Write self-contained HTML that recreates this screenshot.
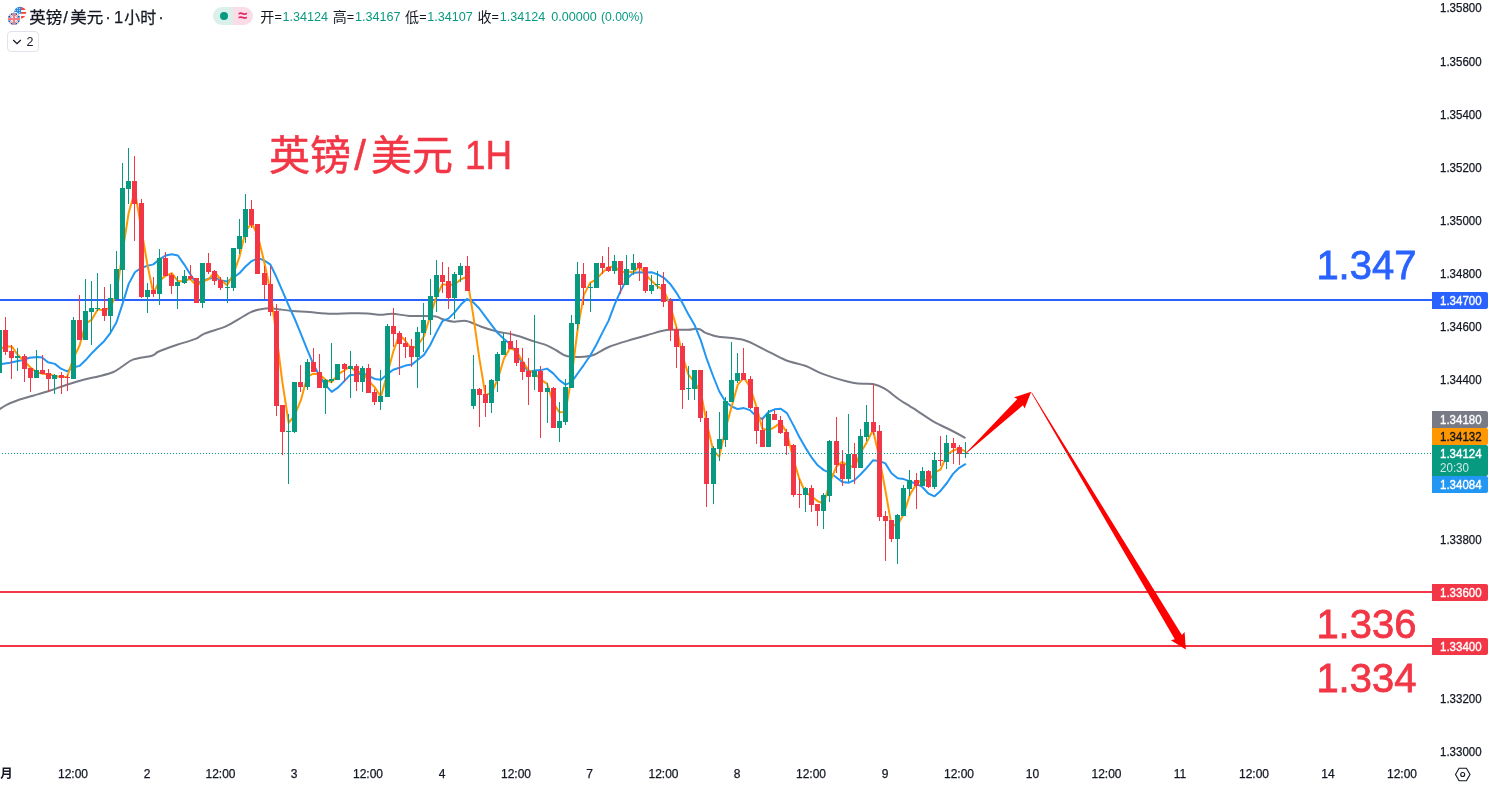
<!DOCTYPE html>
<html lang="zh-CN">
<head>
<meta charset="utf-8">
<title>英镑/美元 1小时</title>
<style>
html,body{margin:0;padding:0;background:#fff;}
body{width:1493px;height:787px;position:relative;overflow:hidden;font-family:'Liberation Sans','Noto Sans CJK SC',sans-serif;color:#131722;}
.abs{position:absolute;white-space:nowrap;}
.title{left:30px;top:6px;font-size:16px;line-height:22px;}
.vals{top:8px;font-size:12.4px;line-height:18px;}
.g{color:#089981;}
.btn{left:7px;top:31px;width:30px;height:19px;border:1px solid #e0e3eb;border-radius:4px;background:#fff;}
.pill{left:213px;top:7px;width:40px;height:18px;border-radius:9px;overflow:hidden;}
.pill i{position:absolute;top:0;height:18px;}
</style>
</head>
<body>
<svg width="1493" height="787" viewBox="0 0 1493 787" style="position:absolute;left:0;top:0">
<g shape-rendering="crispEdges">
<rect x="0" y="299" width="1432" height="2" fill="#2962ff"/>
<rect x="0" y="591" width="1432" height="2" fill="#f23645"/>
<rect x="0" y="645" width="1432" height="2" fill="#f23645"/>
</g>
<path d="M-2.0,410.0 C-1.7,409.8 -1.4,409.8 0.0,408.9 C1.4,408.0 3.8,406.2 6.6,404.8 C9.3,403.4 12.1,402.2 16.5,400.7 C20.9,399.2 27.5,397.3 33.0,395.7 C38.5,394.1 44.1,392.6 49.6,390.8 C55.1,389.0 60.6,386.8 66.1,385.0 C71.6,383.2 77.1,381.5 82.6,380.0 C88.1,378.5 94.0,377.5 99.1,376.2 C104.2,374.9 109.4,373.7 113.4,372.0 C117.4,370.3 119.7,368.1 123.0,366.0 C126.3,363.9 128.7,361.1 133.5,359.4 C138.3,357.7 147.8,357.0 152.0,355.7 C156.2,354.4 154.5,353.3 158.7,351.5 C162.9,349.7 170.9,346.9 177.1,344.8 C183.2,342.7 191.1,340.7 195.6,338.9 C200.1,337.1 199.0,336.0 204.0,333.9 C209.0,331.8 219.9,328.9 225.8,326.4 C231.7,323.9 235.0,321.2 239.2,318.8 C243.4,316.4 247.6,313.6 250.9,312.1 C254.2,310.6 256.2,310.2 259.3,309.6 C262.4,309.0 265.8,308.2 269.4,308.2 C273.0,308.2 277.2,309.2 281.1,309.6 C285.0,310.1 288.1,310.5 292.8,310.9 C297.6,311.3 303.2,311.6 309.6,312.1 C316.0,312.6 324.7,313.6 331.4,313.8 C338.1,314.0 344.0,313.4 350.0,313.3 C356.0,313.2 362.3,313.1 367.4,313.4 C372.5,313.6 376.6,314.8 380.8,314.8 C385.0,314.9 387.8,313.5 392.5,313.7 C397.2,313.9 402.3,315.5 409.3,315.9 C416.3,316.3 428.8,315.7 434.4,316.3 C440.0,316.9 439.6,318.4 442.8,319.3 C446.0,320.2 449.8,321.5 453.7,321.8 C457.6,322.1 461.7,320.2 466.3,321.0 C470.9,321.8 476.3,325.1 481.4,326.8 C486.5,328.6 491.6,330.2 497.0,331.5 C502.4,332.8 507.7,333.1 513.9,334.7 C520.1,336.3 528.4,339.6 534.0,341.4 C539.6,343.2 543.5,344.0 547.4,345.6 C551.3,347.2 554.0,349.2 557.3,351.0 C560.6,352.8 562.9,355.3 567.4,356.3 C571.9,357.3 579.6,357.1 584.1,356.8 C588.6,356.6 590.0,356.5 594.2,354.8 C598.4,353.1 602.6,349.5 609.3,346.8 C616.0,344.1 627.4,341.0 634.4,338.8 C641.4,336.6 646.9,335.2 651.4,333.9 C655.9,332.6 658.4,331.8 661.6,331.1 C664.8,330.4 666.0,330.0 670.4,329.8 C674.8,329.6 684.2,330.0 688.2,329.8 C692.2,329.6 692.5,329.0 694.4,328.9 C696.3,328.8 698.0,328.7 699.8,329.3 C701.6,329.9 703.4,331.9 705.1,332.7 C706.8,333.5 707.7,333.7 710.0,334.4 C712.3,335.1 713.1,335.8 718.7,336.7 C724.3,337.6 736.2,337.9 743.8,340.0 C751.3,342.1 757.0,345.9 764.0,349.3 C771.0,352.7 778.8,357.4 785.8,360.2 C792.8,363.0 799.8,363.7 805.9,366.0 C812.0,368.3 814.8,371.1 822.6,373.9 C830.4,376.7 844.4,381.1 852.8,382.8 C861.2,384.5 867.6,383.0 872.9,384.0 C878.2,385.0 880.5,386.2 884.7,388.7 C888.9,391.1 893.9,395.8 898.1,398.7 C902.3,401.6 906.8,404.3 910.0,406.3 C913.2,408.3 913.2,408.2 917.2,410.8 C921.2,413.4 928.0,418.3 933.7,421.6 C939.4,424.9 946.2,427.8 951.5,430.5 C956.8,433.2 963.2,436.8 965.5,438.1" fill="none" stroke="#787b86" stroke-width="2" stroke-linejoin="round" stroke-linecap="butt"/>
<path d="M-1.0,364.5 L0.0,364.3 L9.9,362.7 L21.5,360.2 L29.7,357.7 L38.0,357.0 L42.1,357.4 L47.9,362.3 L54.9,363.9 L61.0,368.7 L67.2,371.3 L73.3,367.5 L79.5,365.9 L85.7,360.1 L91.8,353.2 L98.0,347.0 L104.1,341.2 L110.3,333.1 L116.4,322.5 L122.6,303.6 L128.7,283.9 L134.9,272.3 L141.0,268.0 L147.2,265.9 L153.3,264.4 L159.5,259.4 L165.6,255.5 L171.8,254.2 L177.9,255.5 L184.1,264.3 L190.2,274.0 L196.4,283.9 L202.5,280.6 L208.7,278.7 L214.8,277.4 L221.0,280.4 L227.1,281.5 L233.3,277.8 L239.4,273.2 L245.6,266.5 L251.7,261.1 L257.9,258.1 L264.0,260.3 L270.2,264.3 L276.3,276.8 L282.5,291.2 L288.7,305.6 L294.8,319.0 L301.0,334.1 L307.1,349.4 L313.3,364.2 L319.4,375.6 L325.6,385.1 L331.7,391.8 L337.9,387.7 L344.0,381.4 L350.2,374.9 L356.3,374.8 L362.5,372.9 L368.6,376.0 L374.8,378.9 L380.9,379.8 L387.1,374.4 L393.2,369.8 L399.4,367.8 L405.5,365.6 L411.7,364.6 L417.8,359.7 L424.0,354.9 L430.1,345.3 L436.3,332.6 L442.4,321.2 L448.6,318.4 L454.7,312.4 L460.9,304.6 L467.0,299.0 L473.2,302.3 L479.3,308.5 L485.5,316.8 L491.7,325.2 L497.8,333.1 L504.0,339.0 L510.1,344.1 L516.3,353.0 L522.4,363.5 L528.6,372.1 L534.7,370.4 L540.9,370.1 L547.0,368.6 L553.2,373.4 L559.3,380.1 L565.5,384.6 L571.6,382.1 L577.8,373.2 L583.9,364.8 L590.1,355.8 L596.2,345.0 L602.4,332.6 L608.5,320.9 L614.7,304.3 L620.8,290.6 L627.0,278.9 L633.1,272.9 L639.3,272.2 L645.4,272.5 L651.6,272.3 L657.7,274.4 L663.9,277.8 L670.0,283.7 L676.2,292.3 L682.3,302.7 L688.5,314.6 L694.7,325.3 L700.8,340.4 L707.0,359.7 L713.1,376.0 L719.3,391.5 L725.4,401.4 L731.6,406.5 L737.7,409.1 L743.9,408.1 L750.0,410.1 L756.2,416.2 L762.3,419.0 L768.5,412.0 L774.6,409.3 L780.8,408.7 L786.9,413.1 L793.1,424.6 L799.2,436.8 L805.4,447.6 L811.5,457.3 L817.7,465.3 L823.8,470.1 L830.0,472.8 L836.1,477.3 L842.3,481.9 L848.4,482.8 L854.6,480.1 L860.7,474.2 L866.9,467.6 L873.0,460.3 L879.2,460.9 L885.3,463.4 L891.5,473.2 L897.7,478.2 L903.8,479.1 L910.0,481.7 L916.1,483.5 L922.3,487.0 L928.4,493.5 L934.6,496.3 L940.7,490.7 L946.9,483.0 L953.0,473.9 L959.2,467.8 L965.3,464.2" fill="none" stroke="#2196f3" stroke-width="2" stroke-linejoin="round" stroke-linecap="round"/>
<path d="M-0.5,349.0 L5.7,346.5 L11.8,346.4 L18.0,355.2 L24.1,360.8 L30.3,367.4 L36.4,372.1 L42.6,373.8 L48.7,374.2 L54.9,375.9 L61.0,377.1 L67.2,376.7 L73.3,358.4 L79.5,345.7 L85.7,323.6 L91.8,319.6 L98.0,309.1 L104.1,310.7 L110.3,307.4 L116.4,294.4 L122.6,251.8 L128.7,212.7 L134.9,190.9 L141.0,227.1 L147.2,263.5 L153.3,293.5 L159.5,280.6 L165.6,275.9 L171.8,273.2 L177.9,281.2 L184.1,281.2 L190.2,278.8 L196.4,285.8 L202.5,281.5 L208.7,279.2 L214.8,271.8 L221.0,280.0 L227.1,285.2 L233.3,274.3 L239.4,257.0 L245.6,231.0 L251.7,223.2 L257.9,235.7 L264.0,261.0 L270.2,290.0 L276.3,334.1 L282.5,383.0 L288.7,422.8 L294.8,414.9 L301.0,399.9 L307.1,376.9 L313.3,373.7 L319.4,374.0 L325.6,380.0 L331.7,382.2 L337.9,374.4 L344.0,370.6 L350.2,366.2 L356.3,372.1 L362.5,371.9 L368.6,380.7 L374.8,387.4 L380.9,396.8 L387.1,374.6 L393.2,351.9 L399.4,334.4 L405.5,341.2 L411.7,349.0 L417.8,345.2 L424.0,336.3 L430.1,316.2 L436.3,297.1 L442.4,284.3 L448.6,284.9 L454.7,284.5 L460.9,279.2 L467.0,276.8 L473.2,315.2 L479.3,358.1 L485.5,395.4 L491.7,392.5 L497.8,379.0 L504.0,358.5 L510.1,348.0 L516.3,350.9 L522.4,361.0 L528.6,370.3 L534.7,373.1 L540.9,379.8 L547.0,383.7 L553.2,402.5 L559.3,412.3 L565.5,411.9 L571.6,377.0 L577.8,328.0 L583.9,294.9 L590.1,282.9 L596.2,279.3 L602.4,272.6 L608.5,267.3 L614.7,266.6 L620.8,272.3 L627.0,271.6 L633.1,272.3 L639.3,266.6 L645.4,273.9 L651.6,281.1 L657.7,286.6 L663.9,290.2 L670.0,305.1 L676.2,326.1 L682.3,355.3 L688.5,374.7 L694.7,382.5 L700.8,392.2 L707.0,424.2 L713.1,450.1 L719.3,456.9 L725.4,429.4 L731.6,406.8 L737.7,384.9 L743.9,377.6 L750.0,386.9 L756.2,406.0 L762.3,428.4 L768.5,430.5 L774.6,427.1 L780.8,422.4 L786.9,432.9 L793.1,457.7 L799.2,478.5 L805.4,492.7 L811.5,495.9 L817.7,501.2 L823.8,503.5 L830.0,482.3 L836.1,467.1 L842.3,461.7 L848.4,466.1 L854.6,466.9 L860.7,452.7 L866.9,441.9 L873.0,430.0 L879.2,456.9 L885.3,489.8 L891.5,525.4 L897.7,524.8 L903.8,513.9 L910.0,494.4 L916.1,484.6 L922.3,478.9 L928.4,481.1 L934.6,472.7 L940.7,469.4 L946.9,454.8 L953.0,450.6 L959.2,448.2 L965.3,451.4" fill="none" stroke="#ff9800" stroke-width="2" stroke-linejoin="round" stroke-linecap="round"/>
<g shape-rendering="crispEdges">
<rect x="-1" y="325" width="1" height="50" fill="#089981"/>
<rect x="-3" y="330" width="5" height="43" fill="#089981"/>
<rect x="5" y="317" width="1" height="38" fill="#f23645"/>
<rect x="3" y="330" width="5" height="22" fill="#f23645"/>
<rect x="11" y="345" width="1" height="34" fill="#f23645"/>
<rect x="9" y="351" width="5" height="7" fill="#f23645"/>
<rect x="17" y="348" width="1" height="23" fill="#089981"/>
<rect x="15" y="356" width="5" height="2" fill="#089981"/>
<rect x="24" y="354" width="1" height="28" fill="#f23645"/>
<rect x="22" y="356" width="5" height="13" fill="#f23645"/>
<rect x="30" y="368" width="1" height="24" fill="#f23645"/>
<rect x="28" y="368" width="5" height="10" fill="#f23645"/>
<rect x="36" y="350" width="1" height="28" fill="#089981"/>
<rect x="34" y="370" width="5" height="8" fill="#089981"/>
<rect x="42" y="355" width="1" height="19" fill="#f23645"/>
<rect x="40" y="370" width="5" height="4" fill="#f23645"/>
<rect x="48" y="369" width="1" height="23" fill="#f23645"/>
<rect x="46" y="373" width="5" height="6" fill="#f23645"/>
<rect x="54" y="374" width="1" height="20" fill="#089981"/>
<rect x="52" y="375" width="5" height="4" fill="#089981"/>
<rect x="61" y="372" width="1" height="22" fill="#f23645"/>
<rect x="59" y="375" width="5" height="3" fill="#f23645"/>
<rect x="67" y="375" width="1" height="16" fill="#f23645"/>
<rect x="65" y="377" width="5" height="1" fill="#f23645"/>
<rect x="73" y="317" width="1" height="62" fill="#089981"/>
<rect x="71" y="320" width="5" height="59" fill="#089981"/>
<rect x="79" y="295" width="1" height="45" fill="#f23645"/>
<rect x="77" y="320" width="5" height="20" fill="#f23645"/>
<rect x="85" y="279" width="1" height="61" fill="#089981"/>
<rect x="83" y="311" width="5" height="29" fill="#089981"/>
<rect x="91" y="281" width="1" height="64" fill="#089981"/>
<rect x="89" y="308" width="5" height="4" fill="#089981"/>
<rect x="97" y="273" width="1" height="38" fill="#089981"/>
<rect x="95" y="308" width="5" height="1" fill="#089981"/>
<rect x="104" y="287" width="1" height="34" fill="#f23645"/>
<rect x="102" y="308" width="5" height="8" fill="#f23645"/>
<rect x="110" y="284" width="1" height="48" fill="#089981"/>
<rect x="108" y="298" width="5" height="18" fill="#089981"/>
<rect x="116" y="251" width="1" height="48" fill="#089981"/>
<rect x="114" y="269" width="5" height="30" fill="#089981"/>
<rect x="122" y="163" width="1" height="137" fill="#089981"/>
<rect x="120" y="188" width="5" height="82" fill="#089981"/>
<rect x="128" y="148" width="1" height="56" fill="#089981"/>
<rect x="126" y="181" width="5" height="8" fill="#089981"/>
<rect x="134" y="156" width="1" height="85" fill="#f23645"/>
<rect x="132" y="181" width="5" height="23" fill="#f23645"/>
<rect x="141" y="199" width="1" height="99" fill="#f23645"/>
<rect x="139" y="203" width="5" height="94" fill="#f23645"/>
<rect x="147" y="283" width="1" height="30" fill="#089981"/>
<rect x="145" y="290" width="5" height="7" fill="#089981"/>
<rect x="153" y="277" width="1" height="20" fill="#f23645"/>
<rect x="151" y="290" width="5" height="4" fill="#f23645"/>
<rect x="159" y="249" width="1" height="56" fill="#089981"/>
<rect x="157" y="258" width="5" height="36" fill="#089981"/>
<rect x="165" y="252" width="1" height="24" fill="#f23645"/>
<rect x="163" y="258" width="5" height="18" fill="#f23645"/>
<rect x="171" y="273" width="1" height="21" fill="#f23645"/>
<rect x="169" y="275" width="5" height="11" fill="#f23645"/>
<rect x="177" y="276" width="1" height="33" fill="#089981"/>
<rect x="175" y="282" width="5" height="4" fill="#089981"/>
<rect x="184" y="270" width="1" height="14" fill="#089981"/>
<rect x="182" y="276" width="5" height="7" fill="#089981"/>
<rect x="190" y="265" width="1" height="15" fill="#f23645"/>
<rect x="188" y="276" width="5" height="3" fill="#f23645"/>
<rect x="196" y="278" width="1" height="25" fill="#f23645"/>
<rect x="194" y="278" width="5" height="25" fill="#f23645"/>
<rect x="202" y="263" width="1" height="45" fill="#089981"/>
<rect x="200" y="263" width="5" height="40" fill="#089981"/>
<rect x="208" y="253" width="1" height="21" fill="#f23645"/>
<rect x="206" y="263" width="5" height="9" fill="#f23645"/>
<rect x="214" y="270" width="1" height="15" fill="#f23645"/>
<rect x="212" y="271" width="5" height="10" fill="#f23645"/>
<rect x="220" y="277" width="1" height="13" fill="#f23645"/>
<rect x="218" y="280" width="5" height="8" fill="#f23645"/>
<rect x="227" y="277" width="1" height="26" fill="#089981"/>
<rect x="225" y="287" width="5" height="1" fill="#089981"/>
<rect x="233" y="248" width="1" height="43" fill="#089981"/>
<rect x="231" y="248" width="5" height="40" fill="#089981"/>
<rect x="239" y="219" width="1" height="35" fill="#089981"/>
<rect x="237" y="236" width="5" height="13" fill="#089981"/>
<rect x="245" y="194" width="1" height="49" fill="#089981"/>
<rect x="243" y="209" width="5" height="28" fill="#089981"/>
<rect x="251" y="200" width="1" height="28" fill="#f23645"/>
<rect x="249" y="209" width="5" height="16" fill="#f23645"/>
<rect x="257" y="224" width="1" height="50" fill="#f23645"/>
<rect x="255" y="224" width="5" height="50" fill="#f23645"/>
<rect x="264" y="266" width="1" height="33" fill="#f23645"/>
<rect x="262" y="273" width="5" height="12" fill="#f23645"/>
<rect x="270" y="266" width="1" height="50" fill="#f23645"/>
<rect x="268" y="284" width="5" height="28" fill="#f23645"/>
<rect x="276" y="304" width="1" height="112" fill="#f23645"/>
<rect x="274" y="311" width="5" height="95" fill="#f23645"/>
<rect x="282" y="405" width="1" height="50" fill="#f23645"/>
<rect x="280" y="405" width="5" height="27" fill="#f23645"/>
<rect x="288" y="414" width="1" height="70" fill="#089981"/>
<rect x="286" y="431" width="5" height="1" fill="#089981"/>
<rect x="294" y="382" width="1" height="51" fill="#089981"/>
<rect x="292" y="382" width="5" height="50" fill="#089981"/>
<rect x="300" y="365" width="1" height="27" fill="#f23645"/>
<rect x="298" y="382" width="5" height="5" fill="#f23645"/>
<rect x="307" y="359" width="1" height="31" fill="#089981"/>
<rect x="305" y="362" width="5" height="25" fill="#089981"/>
<rect x="313" y="348" width="1" height="24" fill="#f23645"/>
<rect x="311" y="362" width="5" height="10" fill="#f23645"/>
<rect x="319" y="354" width="1" height="34" fill="#f23645"/>
<rect x="317" y="372" width="5" height="16" fill="#f23645"/>
<rect x="325" y="379" width="1" height="35" fill="#089981"/>
<rect x="323" y="380" width="5" height="8" fill="#089981"/>
<rect x="331" y="343" width="1" height="40" fill="#089981"/>
<rect x="329" y="379" width="5" height="2" fill="#089981"/>
<rect x="337" y="364" width="1" height="16" fill="#089981"/>
<rect x="335" y="364" width="5" height="16" fill="#089981"/>
<rect x="344" y="363" width="1" height="19" fill="#f23645"/>
<rect x="342" y="364" width="5" height="5" fill="#f23645"/>
<rect x="350" y="351" width="1" height="47" fill="#089981"/>
<rect x="348" y="366" width="5" height="3" fill="#089981"/>
<rect x="356" y="364" width="1" height="27" fill="#f23645"/>
<rect x="354" y="366" width="5" height="16" fill="#f23645"/>
<rect x="362" y="366" width="1" height="26" fill="#089981"/>
<rect x="360" y="368" width="5" height="14" fill="#089981"/>
<rect x="368" y="364" width="1" height="29" fill="#f23645"/>
<rect x="366" y="368" width="5" height="25" fill="#f23645"/>
<rect x="374" y="389" width="1" height="16" fill="#f23645"/>
<rect x="372" y="392" width="5" height="10" fill="#f23645"/>
<rect x="380" y="370" width="1" height="40" fill="#089981"/>
<rect x="378" y="396" width="5" height="6" fill="#089981"/>
<rect x="387" y="324" width="1" height="73" fill="#089981"/>
<rect x="385" y="326" width="5" height="71" fill="#089981"/>
<rect x="393" y="308" width="1" height="39" fill="#f23645"/>
<rect x="391" y="326" width="5" height="8" fill="#f23645"/>
<rect x="399" y="331" width="1" height="44" fill="#f23645"/>
<rect x="397" y="333" width="5" height="11" fill="#f23645"/>
<rect x="405" y="337" width="1" height="21" fill="#f23645"/>
<rect x="403" y="343" width="5" height="4" fill="#f23645"/>
<rect x="411" y="339" width="1" height="28" fill="#f23645"/>
<rect x="409" y="346" width="5" height="11" fill="#f23645"/>
<rect x="417" y="327" width="1" height="61" fill="#089981"/>
<rect x="415" y="332" width="5" height="25" fill="#089981"/>
<rect x="423" y="303" width="1" height="49" fill="#089981"/>
<rect x="421" y="320" width="5" height="13" fill="#089981"/>
<rect x="430" y="279" width="1" height="56" fill="#089981"/>
<rect x="428" y="296" width="5" height="24" fill="#089981"/>
<rect x="436" y="260" width="1" height="52" fill="#089981"/>
<rect x="434" y="275" width="5" height="22" fill="#089981"/>
<rect x="442" y="262" width="1" height="31" fill="#f23645"/>
<rect x="440" y="275" width="5" height="7" fill="#f23645"/>
<rect x="448" y="267" width="1" height="42" fill="#f23645"/>
<rect x="446" y="281" width="5" height="17" fill="#f23645"/>
<rect x="454" y="272" width="1" height="47" fill="#089981"/>
<rect x="452" y="274" width="5" height="24" fill="#089981"/>
<rect x="460" y="263" width="1" height="19" fill="#089981"/>
<rect x="458" y="266" width="5" height="9" fill="#089981"/>
<rect x="467" y="256" width="1" height="35" fill="#f23645"/>
<rect x="465" y="266" width="5" height="25" fill="#f23645"/>
<rect x="473" y="355" width="1" height="54" fill="#089981"/>
<rect x="471" y="389" width="5" height="17" fill="#089981"/>
<rect x="479" y="388" width="1" height="39" fill="#f23645"/>
<rect x="477" y="389" width="5" height="6" fill="#f23645"/>
<rect x="485" y="385" width="1" height="32" fill="#f23645"/>
<rect x="483" y="394" width="5" height="9" fill="#f23645"/>
<rect x="491" y="379" width="1" height="34" fill="#089981"/>
<rect x="489" y="380" width="5" height="23" fill="#089981"/>
<rect x="497" y="352" width="1" height="40" fill="#089981"/>
<rect x="495" y="354" width="5" height="27" fill="#089981"/>
<rect x="503" y="333" width="1" height="22" fill="#089981"/>
<rect x="501" y="341" width="5" height="14" fill="#089981"/>
<rect x="510" y="331" width="1" height="18" fill="#f23645"/>
<rect x="508" y="341" width="5" height="8" fill="#f23645"/>
<rect x="516" y="340" width="1" height="26" fill="#f23645"/>
<rect x="514" y="348" width="5" height="15" fill="#f23645"/>
<rect x="522" y="348" width="1" height="32" fill="#f23645"/>
<rect x="520" y="362" width="5" height="10" fill="#f23645"/>
<rect x="528" y="358" width="1" height="47" fill="#f23645"/>
<rect x="526" y="371" width="5" height="6" fill="#f23645"/>
<rect x="534" y="315" width="1" height="75" fill="#089981"/>
<rect x="532" y="371" width="5" height="6" fill="#089981"/>
<rect x="540" y="366" width="1" height="72" fill="#f23645"/>
<rect x="538" y="371" width="5" height="21" fill="#f23645"/>
<rect x="547" y="383" width="1" height="40" fill="#089981"/>
<rect x="545" y="388" width="5" height="4" fill="#089981"/>
<rect x="553" y="387" width="1" height="41" fill="#f23645"/>
<rect x="551" y="388" width="5" height="40" fill="#f23645"/>
<rect x="559" y="402" width="1" height="40" fill="#089981"/>
<rect x="557" y="421" width="5" height="7" fill="#089981"/>
<rect x="565" y="379" width="1" height="46" fill="#089981"/>
<rect x="563" y="387" width="5" height="35" fill="#089981"/>
<rect x="571" y="315" width="1" height="73" fill="#089981"/>
<rect x="569" y="323" width="5" height="65" fill="#089981"/>
<rect x="577" y="262" width="1" height="68" fill="#089981"/>
<rect x="575" y="274" width="5" height="50" fill="#089981"/>
<rect x="583" y="263" width="1" height="42" fill="#f23645"/>
<rect x="581" y="274" width="5" height="14" fill="#f23645"/>
<rect x="590" y="283" width="1" height="29" fill="#089981"/>
<rect x="588" y="287" width="5" height="1" fill="#089981"/>
<rect x="596" y="263" width="1" height="25" fill="#089981"/>
<rect x="594" y="263" width="5" height="25" fill="#089981"/>
<rect x="602" y="256" width="1" height="18" fill="#f23645"/>
<rect x="600" y="263" width="5" height="5" fill="#f23645"/>
<rect x="608" y="247" width="1" height="25" fill="#f23645"/>
<rect x="606" y="267" width="5" height="4" fill="#f23645"/>
<rect x="614" y="255" width="1" height="19" fill="#089981"/>
<rect x="612" y="261" width="5" height="10" fill="#089981"/>
<rect x="620" y="261" width="1" height="33" fill="#f23645"/>
<rect x="618" y="261" width="5" height="24" fill="#f23645"/>
<rect x="626" y="255" width="1" height="30" fill="#089981"/>
<rect x="624" y="269" width="5" height="16" fill="#089981"/>
<rect x="633" y="254" width="1" height="21" fill="#089981"/>
<rect x="631" y="263" width="5" height="7" fill="#089981"/>
<rect x="639" y="262" width="1" height="19" fill="#f23645"/>
<rect x="637" y="263" width="5" height="5" fill="#f23645"/>
<rect x="645" y="267" width="1" height="26" fill="#f23645"/>
<rect x="643" y="267" width="5" height="24" fill="#f23645"/>
<rect x="651" y="275" width="1" height="19" fill="#089981"/>
<rect x="649" y="285" width="5" height="6" fill="#089981"/>
<rect x="657" y="271" width="1" height="18" fill="#089981"/>
<rect x="655" y="284" width="5" height="1" fill="#089981"/>
<rect x="663" y="272" width="1" height="35" fill="#f23645"/>
<rect x="661" y="284" width="5" height="18" fill="#f23645"/>
<rect x="670" y="298" width="1" height="43" fill="#f23645"/>
<rect x="668" y="301" width="5" height="29" fill="#f23645"/>
<rect x="676" y="327" width="1" height="41" fill="#f23645"/>
<rect x="674" y="329" width="5" height="18" fill="#f23645"/>
<rect x="682" y="343" width="1" height="66" fill="#f23645"/>
<rect x="680" y="346" width="5" height="44" fill="#f23645"/>
<rect x="688" y="366" width="1" height="34" fill="#089981"/>
<rect x="686" y="388" width="5" height="1" fill="#089981"/>
<rect x="694" y="370" width="1" height="30" fill="#089981"/>
<rect x="692" y="370" width="5" height="19" fill="#089981"/>
<rect x="700" y="370" width="1" height="52" fill="#f23645"/>
<rect x="698" y="370" width="5" height="48" fill="#f23645"/>
<rect x="706" y="411" width="1" height="96" fill="#f23645"/>
<rect x="704" y="418" width="5" height="66" fill="#f23645"/>
<rect x="713" y="446" width="1" height="58" fill="#089981"/>
<rect x="711" y="448" width="5" height="36" fill="#089981"/>
<rect x="719" y="412" width="1" height="49" fill="#089981"/>
<rect x="717" y="439" width="5" height="10" fill="#089981"/>
<rect x="725" y="397" width="1" height="50" fill="#089981"/>
<rect x="723" y="401" width="5" height="39" fill="#089981"/>
<rect x="731" y="342" width="1" height="60" fill="#089981"/>
<rect x="729" y="380" width="5" height="22" fill="#089981"/>
<rect x="737" y="353" width="1" height="30" fill="#089981"/>
<rect x="735" y="373" width="5" height="8" fill="#089981"/>
<rect x="743" y="348" width="1" height="32" fill="#f23645"/>
<rect x="741" y="373" width="5" height="7" fill="#f23645"/>
<rect x="750" y="376" width="1" height="33" fill="#f23645"/>
<rect x="748" y="379" width="5" height="29" fill="#f23645"/>
<rect x="756" y="407" width="1" height="37" fill="#f23645"/>
<rect x="754" y="407" width="5" height="24" fill="#f23645"/>
<rect x="762" y="418" width="1" height="29" fill="#f23645"/>
<rect x="760" y="430" width="5" height="17" fill="#f23645"/>
<rect x="768" y="410" width="1" height="37" fill="#089981"/>
<rect x="766" y="414" width="5" height="33" fill="#089981"/>
<rect x="774" y="410" width="1" height="10" fill="#f23645"/>
<rect x="772" y="414" width="5" height="6" fill="#f23645"/>
<rect x="780" y="416" width="1" height="18" fill="#f23645"/>
<rect x="778" y="420" width="5" height="13" fill="#f23645"/>
<rect x="786" y="429" width="1" height="26" fill="#f23645"/>
<rect x="784" y="432" width="5" height="14" fill="#f23645"/>
<rect x="793" y="444" width="1" height="53" fill="#f23645"/>
<rect x="791" y="445" width="5" height="50" fill="#f23645"/>
<rect x="799" y="479" width="1" height="29" fill="#f23645"/>
<rect x="797" y="494" width="5" height="1" fill="#f23645"/>
<rect x="805" y="487" width="1" height="25" fill="#089981"/>
<rect x="803" y="488" width="5" height="7" fill="#089981"/>
<rect x="811" y="485" width="1" height="27" fill="#f23645"/>
<rect x="809" y="488" width="5" height="17" fill="#f23645"/>
<rect x="817" y="504" width="1" height="22" fill="#f23645"/>
<rect x="815" y="504" width="5" height="7" fill="#f23645"/>
<rect x="823" y="493" width="1" height="36" fill="#089981"/>
<rect x="821" y="495" width="5" height="16" fill="#089981"/>
<rect x="829" y="440" width="1" height="62" fill="#089981"/>
<rect x="827" y="441" width="5" height="55" fill="#089981"/>
<rect x="836" y="417" width="1" height="56" fill="#f23645"/>
<rect x="834" y="441" width="5" height="24" fill="#f23645"/>
<rect x="842" y="450" width="1" height="36" fill="#f23645"/>
<rect x="840" y="464" width="5" height="15" fill="#f23645"/>
<rect x="848" y="414" width="1" height="68" fill="#089981"/>
<rect x="846" y="454" width="5" height="25" fill="#089981"/>
<rect x="854" y="443" width="1" height="41" fill="#f23645"/>
<rect x="852" y="454" width="5" height="14" fill="#f23645"/>
<rect x="860" y="429" width="1" height="39" fill="#089981"/>
<rect x="858" y="436" width="5" height="32" fill="#089981"/>
<rect x="866" y="405" width="1" height="36" fill="#089981"/>
<rect x="864" y="422" width="5" height="15" fill="#089981"/>
<rect x="873" y="384" width="1" height="51" fill="#f23645"/>
<rect x="871" y="422" width="5" height="10" fill="#f23645"/>
<rect x="879" y="425" width="1" height="96" fill="#f23645"/>
<rect x="877" y="431" width="5" height="86" fill="#f23645"/>
<rect x="885" y="511" width="1" height="50" fill="#f23645"/>
<rect x="883" y="516" width="5" height="5" fill="#f23645"/>
<rect x="891" y="520" width="1" height="22" fill="#f23645"/>
<rect x="889" y="520" width="5" height="19" fill="#f23645"/>
<rect x="897" y="514" width="1" height="50" fill="#089981"/>
<rect x="895" y="515" width="5" height="24" fill="#089981"/>
<rect x="903" y="485" width="1" height="31" fill="#089981"/>
<rect x="901" y="488" width="5" height="28" fill="#089981"/>
<rect x="909" y="470" width="1" height="26" fill="#089981"/>
<rect x="907" y="480" width="5" height="9" fill="#089981"/>
<rect x="916" y="473" width="1" height="36" fill="#f23645"/>
<rect x="914" y="480" width="5" height="6" fill="#f23645"/>
<rect x="922" y="467" width="1" height="19" fill="#089981"/>
<rect x="920" y="471" width="5" height="15" fill="#089981"/>
<rect x="928" y="470" width="1" height="18" fill="#f23645"/>
<rect x="926" y="471" width="5" height="16" fill="#f23645"/>
<rect x="934" y="452" width="1" height="37" fill="#089981"/>
<rect x="932" y="460" width="5" height="27" fill="#089981"/>
<rect x="940" y="436" width="1" height="30" fill="#f23645"/>
<rect x="938" y="460" width="5" height="1" fill="#f23645"/>
<rect x="946" y="435" width="1" height="34" fill="#089981"/>
<rect x="944" y="443" width="5" height="19" fill="#089981"/>
<rect x="953" y="438" width="1" height="26" fill="#f23645"/>
<rect x="951" y="443" width="5" height="5" fill="#f23645"/>
<rect x="959" y="445" width="1" height="20" fill="#f23645"/>
<rect x="957" y="447" width="5" height="7" fill="#f23645"/>
<rect x="965" y="442" width="1" height="16" fill="#089981"/>
<rect x="963" y="453" width="5" height="1" fill="#089981"/>
</g>
<polygon points="966.2,453.4 1023.0,405.3 1024.6,408.6 1031.2,391.8 1014.0,397.3 1017.3,399.1 965.8,453.0" fill="#ff0000"/>
<polygon points="1031.3,392.8 1174.8,639.2 1170.9,640.2 1185.8,649.5 1184.6,632.0 1181.9,634.9 1031.9,392.4" fill="#ff0000"/>
<g shape-rendering="crispEdges" fill="#089981">
<path d="M2 453h1v1h-1zM5 453h1v1h-1zM8 453h1v1h-1zM11 453h1v1h-1zM14 453h1v1h-1zM17 453h1v1h-1zM20 453h1v1h-1zM23 453h1v1h-1zM26 453h1v1h-1zM29 453h1v1h-1zM32 453h1v1h-1zM35 453h1v1h-1zM38 453h1v1h-1zM41 453h1v1h-1zM44 453h1v1h-1zM47 453h1v1h-1zM50 453h1v1h-1zM53 453h1v1h-1zM56 453h1v1h-1zM59 453h1v1h-1zM62 453h1v1h-1zM65 453h1v1h-1zM68 453h1v1h-1zM71 453h1v1h-1zM74 453h1v1h-1zM77 453h1v1h-1zM80 453h1v1h-1zM83 453h1v1h-1zM86 453h1v1h-1zM89 453h1v1h-1zM92 453h1v1h-1zM95 453h1v1h-1zM98 453h1v1h-1zM101 453h1v1h-1zM104 453h1v1h-1zM107 453h1v1h-1zM110 453h1v1h-1zM113 453h1v1h-1zM116 453h1v1h-1zM119 453h1v1h-1zM122 453h1v1h-1zM125 453h1v1h-1zM128 453h1v1h-1zM131 453h1v1h-1zM134 453h1v1h-1zM137 453h1v1h-1zM140 453h1v1h-1zM143 453h1v1h-1zM146 453h1v1h-1zM149 453h1v1h-1zM152 453h1v1h-1zM155 453h1v1h-1zM158 453h1v1h-1zM161 453h1v1h-1zM164 453h1v1h-1zM167 453h1v1h-1zM170 453h1v1h-1zM173 453h1v1h-1zM176 453h1v1h-1zM179 453h1v1h-1zM182 453h1v1h-1zM185 453h1v1h-1zM188 453h1v1h-1zM191 453h1v1h-1zM194 453h1v1h-1zM197 453h1v1h-1zM200 453h1v1h-1zM203 453h1v1h-1zM206 453h1v1h-1zM209 453h1v1h-1zM212 453h1v1h-1zM215 453h1v1h-1zM218 453h1v1h-1zM221 453h1v1h-1zM224 453h1v1h-1zM227 453h1v1h-1zM230 453h1v1h-1zM233 453h1v1h-1zM236 453h1v1h-1zM239 453h1v1h-1zM242 453h1v1h-1zM245 453h1v1h-1zM248 453h1v1h-1zM251 453h1v1h-1zM254 453h1v1h-1zM257 453h1v1h-1zM260 453h1v1h-1zM263 453h1v1h-1zM266 453h1v1h-1zM269 453h1v1h-1zM272 453h1v1h-1zM275 453h1v1h-1zM278 453h1v1h-1zM281 453h1v1h-1zM284 453h1v1h-1zM287 453h1v1h-1zM290 453h1v1h-1zM293 453h1v1h-1zM296 453h1v1h-1zM299 453h1v1h-1zM302 453h1v1h-1zM305 453h1v1h-1zM308 453h1v1h-1zM311 453h1v1h-1zM314 453h1v1h-1zM317 453h1v1h-1zM320 453h1v1h-1zM323 453h1v1h-1zM326 453h1v1h-1zM329 453h1v1h-1zM332 453h1v1h-1zM335 453h1v1h-1zM338 453h1v1h-1zM341 453h1v1h-1zM344 453h1v1h-1zM347 453h1v1h-1zM350 453h1v1h-1zM353 453h1v1h-1zM356 453h1v1h-1zM359 453h1v1h-1zM362 453h1v1h-1zM365 453h1v1h-1zM368 453h1v1h-1zM371 453h1v1h-1zM374 453h1v1h-1zM377 453h1v1h-1zM380 453h1v1h-1zM383 453h1v1h-1zM386 453h1v1h-1zM389 453h1v1h-1zM392 453h1v1h-1zM395 453h1v1h-1zM398 453h1v1h-1zM401 453h1v1h-1zM404 453h1v1h-1zM407 453h1v1h-1zM410 453h1v1h-1zM413 453h1v1h-1zM416 453h1v1h-1zM419 453h1v1h-1zM422 453h1v1h-1zM425 453h1v1h-1zM428 453h1v1h-1zM431 453h1v1h-1zM434 453h1v1h-1zM437 453h1v1h-1zM440 453h1v1h-1zM443 453h1v1h-1zM446 453h1v1h-1zM449 453h1v1h-1zM452 453h1v1h-1zM455 453h1v1h-1zM458 453h1v1h-1zM461 453h1v1h-1zM464 453h1v1h-1zM467 453h1v1h-1zM470 453h1v1h-1zM473 453h1v1h-1zM476 453h1v1h-1zM479 453h1v1h-1zM482 453h1v1h-1zM485 453h1v1h-1zM488 453h1v1h-1zM491 453h1v1h-1zM494 453h1v1h-1zM497 453h1v1h-1zM500 453h1v1h-1zM503 453h1v1h-1zM506 453h1v1h-1zM509 453h1v1h-1zM512 453h1v1h-1zM515 453h1v1h-1zM518 453h1v1h-1zM521 453h1v1h-1zM524 453h1v1h-1zM527 453h1v1h-1zM530 453h1v1h-1zM533 453h1v1h-1zM536 453h1v1h-1zM539 453h1v1h-1zM542 453h1v1h-1zM545 453h1v1h-1zM548 453h1v1h-1zM551 453h1v1h-1zM554 453h1v1h-1zM557 453h1v1h-1zM560 453h1v1h-1zM563 453h1v1h-1zM566 453h1v1h-1zM569 453h1v1h-1zM572 453h1v1h-1zM575 453h1v1h-1zM578 453h1v1h-1zM581 453h1v1h-1zM584 453h1v1h-1zM587 453h1v1h-1zM590 453h1v1h-1zM593 453h1v1h-1zM596 453h1v1h-1zM599 453h1v1h-1zM602 453h1v1h-1zM605 453h1v1h-1zM608 453h1v1h-1zM611 453h1v1h-1zM614 453h1v1h-1zM617 453h1v1h-1zM620 453h1v1h-1zM623 453h1v1h-1zM626 453h1v1h-1zM629 453h1v1h-1zM632 453h1v1h-1zM635 453h1v1h-1zM638 453h1v1h-1zM641 453h1v1h-1zM644 453h1v1h-1zM647 453h1v1h-1zM650 453h1v1h-1zM653 453h1v1h-1zM656 453h1v1h-1zM659 453h1v1h-1zM662 453h1v1h-1zM665 453h1v1h-1zM668 453h1v1h-1zM671 453h1v1h-1zM674 453h1v1h-1zM677 453h1v1h-1zM680 453h1v1h-1zM683 453h1v1h-1zM686 453h1v1h-1zM689 453h1v1h-1zM692 453h1v1h-1zM695 453h1v1h-1zM698 453h1v1h-1zM701 453h1v1h-1zM704 453h1v1h-1zM707 453h1v1h-1zM710 453h1v1h-1zM713 453h1v1h-1zM716 453h1v1h-1zM719 453h1v1h-1zM722 453h1v1h-1zM725 453h1v1h-1zM728 453h1v1h-1zM731 453h1v1h-1zM734 453h1v1h-1zM737 453h1v1h-1zM740 453h1v1h-1zM743 453h1v1h-1zM746 453h1v1h-1zM749 453h1v1h-1zM752 453h1v1h-1zM755 453h1v1h-1zM758 453h1v1h-1zM761 453h1v1h-1zM764 453h1v1h-1zM767 453h1v1h-1zM770 453h1v1h-1zM773 453h1v1h-1zM776 453h1v1h-1zM779 453h1v1h-1zM782 453h1v1h-1zM785 453h1v1h-1zM788 453h1v1h-1zM791 453h1v1h-1zM794 453h1v1h-1zM797 453h1v1h-1zM800 453h1v1h-1zM803 453h1v1h-1zM806 453h1v1h-1zM809 453h1v1h-1zM812 453h1v1h-1zM815 453h1v1h-1zM818 453h1v1h-1zM821 453h1v1h-1zM824 453h1v1h-1zM827 453h1v1h-1zM830 453h1v1h-1zM833 453h1v1h-1zM836 453h1v1h-1zM839 453h1v1h-1zM842 453h1v1h-1zM845 453h1v1h-1zM848 453h1v1h-1zM851 453h1v1h-1zM854 453h1v1h-1zM857 453h1v1h-1zM860 453h1v1h-1zM863 453h1v1h-1zM866 453h1v1h-1zM869 453h1v1h-1zM872 453h1v1h-1zM875 453h1v1h-1zM878 453h1v1h-1zM881 453h1v1h-1zM884 453h1v1h-1zM887 453h1v1h-1zM890 453h1v1h-1zM893 453h1v1h-1zM896 453h1v1h-1zM899 453h1v1h-1zM902 453h1v1h-1zM905 453h1v1h-1zM908 453h1v1h-1zM911 453h1v1h-1zM914 453h1v1h-1zM917 453h1v1h-1zM920 453h1v1h-1zM923 453h1v1h-1zM926 453h1v1h-1zM929 453h1v1h-1zM932 453h1v1h-1zM935 453h1v1h-1zM938 453h1v1h-1zM941 453h1v1h-1zM944 453h1v1h-1zM947 453h1v1h-1zM950 453h1v1h-1zM953 453h1v1h-1zM956 453h1v1h-1zM959 453h1v1h-1zM962 453h1v1h-1zM965 453h1v1h-1zM968 453h1v1h-1zM971 453h1v1h-1zM974 453h1v1h-1zM977 453h1v1h-1zM980 453h1v1h-1zM983 453h1v1h-1zM986 453h1v1h-1zM989 453h1v1h-1zM992 453h1v1h-1zM995 453h1v1h-1zM998 453h1v1h-1zM1001 453h1v1h-1zM1004 453h1v1h-1zM1007 453h1v1h-1zM1010 453h1v1h-1zM1013 453h1v1h-1zM1016 453h1v1h-1zM1019 453h1v1h-1zM1022 453h1v1h-1zM1025 453h1v1h-1zM1028 453h1v1h-1zM1031 453h1v1h-1zM1034 453h1v1h-1zM1037 453h1v1h-1zM1040 453h1v1h-1zM1043 453h1v1h-1zM1046 453h1v1h-1zM1049 453h1v1h-1zM1052 453h1v1h-1zM1055 453h1v1h-1zM1058 453h1v1h-1zM1061 453h1v1h-1zM1064 453h1v1h-1zM1067 453h1v1h-1zM1070 453h1v1h-1zM1073 453h1v1h-1zM1076 453h1v1h-1zM1079 453h1v1h-1zM1082 453h1v1h-1zM1085 453h1v1h-1zM1088 453h1v1h-1zM1091 453h1v1h-1zM1094 453h1v1h-1zM1097 453h1v1h-1zM1100 453h1v1h-1zM1103 453h1v1h-1zM1106 453h1v1h-1zM1109 453h1v1h-1zM1112 453h1v1h-1zM1115 453h1v1h-1zM1118 453h1v1h-1zM1121 453h1v1h-1zM1124 453h1v1h-1zM1127 453h1v1h-1zM1130 453h1v1h-1zM1133 453h1v1h-1zM1136 453h1v1h-1zM1139 453h1v1h-1zM1142 453h1v1h-1zM1145 453h1v1h-1zM1148 453h1v1h-1zM1151 453h1v1h-1zM1154 453h1v1h-1zM1157 453h1v1h-1zM1160 453h1v1h-1zM1163 453h1v1h-1zM1166 453h1v1h-1zM1169 453h1v1h-1zM1172 453h1v1h-1zM1175 453h1v1h-1zM1178 453h1v1h-1zM1181 453h1v1h-1zM1184 453h1v1h-1zM1187 453h1v1h-1zM1190 453h1v1h-1zM1193 453h1v1h-1zM1196 453h1v1h-1zM1199 453h1v1h-1zM1202 453h1v1h-1zM1205 453h1v1h-1zM1208 453h1v1h-1zM1211 453h1v1h-1zM1214 453h1v1h-1zM1217 453h1v1h-1zM1220 453h1v1h-1zM1223 453h1v1h-1zM1226 453h1v1h-1zM1229 453h1v1h-1zM1232 453h1v1h-1zM1235 453h1v1h-1zM1238 453h1v1h-1zM1241 453h1v1h-1zM1244 453h1v1h-1zM1247 453h1v1h-1zM1250 453h1v1h-1zM1253 453h1v1h-1zM1256 453h1v1h-1zM1259 453h1v1h-1zM1262 453h1v1h-1zM1265 453h1v1h-1zM1268 453h1v1h-1zM1271 453h1v1h-1zM1274 453h1v1h-1zM1277 453h1v1h-1zM1280 453h1v1h-1zM1283 453h1v1h-1zM1286 453h1v1h-1zM1289 453h1v1h-1zM1292 453h1v1h-1zM1295 453h1v1h-1zM1298 453h1v1h-1zM1301 453h1v1h-1zM1304 453h1v1h-1zM1307 453h1v1h-1zM1310 453h1v1h-1zM1313 453h1v1h-1zM1316 453h1v1h-1zM1319 453h1v1h-1zM1322 453h1v1h-1zM1325 453h1v1h-1zM1328 453h1v1h-1zM1331 453h1v1h-1zM1334 453h1v1h-1zM1337 453h1v1h-1zM1340 453h1v1h-1zM1343 453h1v1h-1zM1346 453h1v1h-1zM1349 453h1v1h-1zM1352 453h1v1h-1zM1355 453h1v1h-1zM1358 453h1v1h-1zM1361 453h1v1h-1zM1364 453h1v1h-1zM1367 453h1v1h-1zM1370 453h1v1h-1zM1373 453h1v1h-1zM1376 453h1v1h-1zM1379 453h1v1h-1zM1382 453h1v1h-1zM1385 453h1v1h-1zM1388 453h1v1h-1zM1391 453h1v1h-1zM1394 453h1v1h-1zM1397 453h1v1h-1zM1400 453h1v1h-1zM1403 453h1v1h-1zM1406 453h1v1h-1zM1409 453h1v1h-1zM1412 453h1v1h-1zM1415 453h1v1h-1zM1418 453h1v1h-1zM1421 453h1v1h-1zM1424 453h1v1h-1zM1427 453h1v1h-1zM1430 453h1v1h-1z"/>
</g>
<text y="170" font-family="'Liberation Sans','Noto Sans CJK SC',sans-serif" font-size="41" fill="#f23645" stroke="#f23645" stroke-width="0.5"><tspan x="268.9">英镑</tspan><tspan x="354.3" font-size="42">/</tspan><tspan x="371.1">美元 </tspan><tspan x="465.1" dy="-1" font-size="40" textLength="47.1" lengthAdjust="spacingAndGlyphs">1H</tspan></text>
<text x="1316.4" y="279" font-family="'Liberation Sans','Noto Sans CJK SC',sans-serif" font-size="41" fill="#2962ff" stroke="#2962ff" stroke-width="0.8" textLength="100" lengthAdjust="spacingAndGlyphs">1.347</text>
<text x="1316.4" y="637.5" font-family="'Liberation Sans','Noto Sans CJK SC',sans-serif" font-size="41" fill="#f23645" stroke="#f23645" stroke-width="0.8" textLength="100" lengthAdjust="spacingAndGlyphs">1.336</text>
<text x="1316.4" y="692" font-family="'Liberation Sans','Noto Sans CJK SC',sans-serif" font-size="41" fill="#f23645" stroke="#f23645" stroke-width="0.8" textLength="100" lengthAdjust="spacingAndGlyphs">1.334</text>
<text y="22.7" font-family="'Liberation Sans','Noto Sans CJK SC',sans-serif" font-size="15.8" fill="#131722" stroke="#131722" stroke-width="0.25"><tspan x="29.3" textLength="33" lengthAdjust="spacingAndGlyphs">英镑</tspan><tspan x="63.3" font-size="16.5">/</tspan><tspan x="70.2" textLength="33" lengthAdjust="spacingAndGlyphs">美元</tspan><tspan> </tspan><tspan x="105.2" font-size="16.5">· </tspan><tspan x="114" font-size="16.5">1</tspan><tspan x="124.2" textLength="32" lengthAdjust="spacingAndGlyphs">小时</tspan><tspan> </tspan><tspan x="158.3" font-size="16.5">·</tspan></text>
<text y="21" font-family="'Liberation Sans','Noto Sans CJK SC',sans-serif" font-size="12.6" fill="#131722"><tspan x="260.3" font-size="14" dy="0.6">开</tspan><tspan x="274.4" dy="-0.6">=</tspan><tspan x="282.5" fill="#089981">1.34124</tspan></text>
<text y="21" font-family="'Liberation Sans','Noto Sans CJK SC',sans-serif" font-size="12.6" fill="#131722"><tspan x="332.7" font-size="14" dy="0.6">高</tspan><tspan x="346.8" dy="-0.6">=</tspan><tspan x="354.9" fill="#089981">1.34167</tspan></text>
<text y="21" font-family="'Liberation Sans','Noto Sans CJK SC',sans-serif" font-size="12.6" fill="#131722"><tspan x="405.1" font-size="14" dy="0.6">低</tspan><tspan x="419.2" dy="-0.6">=</tspan><tspan x="427.3" fill="#089981">1.34107</tspan></text>
<text y="21" font-family="'Liberation Sans','Noto Sans CJK SC',sans-serif" font-size="12.6" fill="#131722"><tspan x="477.5" font-size="14" dy="0.6">收</tspan><tspan x="491.6" dy="-0.6">=</tspan><tspan x="499.7" fill="#089981">1.34124</tspan></text>
<text y="21" font-family="'Liberation Sans','Noto Sans CJK SC',sans-serif" font-size="12.6" fill="#089981"><tspan x="551.2">0.00000 </tspan><tspan x="601" textLength="42.4" lengthAdjust="spacingAndGlyphs">(0.00%)</tspan></text>
<text x="1440" y="12.4" font-family="'Liberation Sans','Noto Sans CJK SC',sans-serif" font-size="12" fill="#131722" stroke="#131722" stroke-width="0.25" textLength="41.6" lengthAdjust="spacingAndGlyphs">1.35800</text>
<text x="1440" y="65.5" font-family="'Liberation Sans','Noto Sans CJK SC',sans-serif" font-size="12" fill="#131722" stroke="#131722" stroke-width="0.25" textLength="41.6" lengthAdjust="spacingAndGlyphs">1.35600</text>
<text x="1440" y="118.7" font-family="'Liberation Sans','Noto Sans CJK SC',sans-serif" font-size="12" fill="#131722" stroke="#131722" stroke-width="0.25" textLength="41.6" lengthAdjust="spacingAndGlyphs">1.35400</text>
<text x="1440" y="171.8" font-family="'Liberation Sans','Noto Sans CJK SC',sans-serif" font-size="12" fill="#131722" stroke="#131722" stroke-width="0.25" textLength="41.6" lengthAdjust="spacingAndGlyphs">1.35200</text>
<text x="1440" y="225.0" font-family="'Liberation Sans','Noto Sans CJK SC',sans-serif" font-size="12" fill="#131722" stroke="#131722" stroke-width="0.25" textLength="41.6" lengthAdjust="spacingAndGlyphs">1.35000</text>
<text x="1440" y="278.1" font-family="'Liberation Sans','Noto Sans CJK SC',sans-serif" font-size="12" fill="#131722" stroke="#131722" stroke-width="0.25" textLength="41.6" lengthAdjust="spacingAndGlyphs">1.34800</text>
<text x="1440" y="331.3" font-family="'Liberation Sans','Noto Sans CJK SC',sans-serif" font-size="12" fill="#131722" stroke="#131722" stroke-width="0.25" textLength="41.6" lengthAdjust="spacingAndGlyphs">1.34600</text>
<text x="1440" y="384.4" font-family="'Liberation Sans','Noto Sans CJK SC',sans-serif" font-size="12" fill="#131722" stroke="#131722" stroke-width="0.25" textLength="41.6" lengthAdjust="spacingAndGlyphs">1.34400</text>
<text x="1440" y="543.8" font-family="'Liberation Sans','Noto Sans CJK SC',sans-serif" font-size="12" fill="#131722" stroke="#131722" stroke-width="0.25" textLength="41.6" lengthAdjust="spacingAndGlyphs">1.33800</text>
<text x="1440" y="703.3" font-family="'Liberation Sans','Noto Sans CJK SC',sans-serif" font-size="12" fill="#131722" stroke="#131722" stroke-width="0.25" textLength="41.6" lengthAdjust="spacingAndGlyphs">1.33200</text>
<text x="1440" y="756.4" font-family="'Liberation Sans','Noto Sans CJK SC',sans-serif" font-size="12" fill="#131722" stroke="#131722" stroke-width="0.25" textLength="41.6" lengthAdjust="spacingAndGlyphs">1.33000</text>
<path d="M1432 292h54a2 2 0 0 1 2 2v13a2 2 0 0 1 -2 2h-54z" fill="#2962ff"/><text x="1440" y="304.9" font-family="'Liberation Sans','Noto Sans CJK SC',sans-serif" font-size="12" fill="#fff" stroke="#fff" stroke-width="0.35" textLength="41.6" lengthAdjust="spacingAndGlyphs">1.34700</text>
<path d="M1432 411h54a2 2 0 0 1 2 2v13a2 2 0 0 1 -2 2h-54z" fill="#787b86"/><text x="1440" y="423.9" font-family="'Liberation Sans','Noto Sans CJK SC',sans-serif" font-size="12" fill="#fff" stroke="#fff" stroke-width="0.35" textLength="41.6" lengthAdjust="spacingAndGlyphs">1.34180</text>
<path d="M1432 428h54a2 2 0 0 1 2 2v13a2 2 0 0 1 -2 2h-54z" fill="#ff9800"/><text x="1440" y="440.9" font-family="'Liberation Sans','Noto Sans CJK SC',sans-serif" font-size="12" fill="#131722" stroke="#131722" stroke-width="0.35" textLength="41.6" lengthAdjust="spacingAndGlyphs">1.34132</text>
<path d="M1432 445h54a2 2 0 0 1 2 2v27a2 2 0 0 1 -2 2h-54z" fill="#089981"/><text x="1440" y="458.2" font-family="'Liberation Sans','Noto Sans CJK SC',sans-serif" font-size="12" fill="#fff" stroke="#fff" stroke-width="0.35" textLength="41.6" lengthAdjust="spacingAndGlyphs">1.34124</text><text x="1440" y="471.6" font-family="'Liberation Sans','Noto Sans CJK SC',sans-serif" font-size="12" fill="#fff" fill-opacity="0.8" textLength="29" lengthAdjust="spacingAndGlyphs">20:30</text>
<path d="M1432 476h54a2 2 0 0 1 2 2v13a2 2 0 0 1 -2 2h-54z" fill="#2196f3"/><text x="1440" y="488.9" font-family="'Liberation Sans','Noto Sans CJK SC',sans-serif" font-size="12" fill="#fff" stroke="#fff" stroke-width="0.35" textLength="41.6" lengthAdjust="spacingAndGlyphs">1.34084</text>
<path d="M1432 584h54a2 2 0 0 1 2 2v13a2 2 0 0 1 -2 2h-54z" fill="#f23645"/><text x="1440" y="596.9" font-family="'Liberation Sans','Noto Sans CJK SC',sans-serif" font-size="12" fill="#fff" stroke="#fff" stroke-width="0.35" textLength="41.6" lengthAdjust="spacingAndGlyphs">1.33600</text>
<path d="M1432 638h54a2 2 0 0 1 2 2v13a2 2 0 0 1 -2 2h-54z" fill="#f23645"/><text x="1440" y="650.9" font-family="'Liberation Sans','Noto Sans CJK SC',sans-serif" font-size="12" fill="#fff" stroke="#fff" stroke-width="0.35" textLength="41.6" lengthAdjust="spacingAndGlyphs">1.33400</text>
<text x="73" y="778" text-anchor="middle" font-family="'Liberation Sans','Noto Sans CJK SC',sans-serif" font-size="12" fill="#131722" stroke="#131722" stroke-width="0.25">12:00</text>
<text x="147" y="778" text-anchor="middle" font-family="'Liberation Sans','Noto Sans CJK SC',sans-serif" font-size="12" fill="#131722" stroke="#131722" stroke-width="0.25">2</text>
<text x="220.5" y="778" text-anchor="middle" font-family="'Liberation Sans','Noto Sans CJK SC',sans-serif" font-size="12" fill="#131722" stroke="#131722" stroke-width="0.25">12:00</text>
<text x="294" y="778" text-anchor="middle" font-family="'Liberation Sans','Noto Sans CJK SC',sans-serif" font-size="12" fill="#131722" stroke="#131722" stroke-width="0.25">3</text>
<text x="368" y="778" text-anchor="middle" font-family="'Liberation Sans','Noto Sans CJK SC',sans-serif" font-size="12" fill="#131722" stroke="#131722" stroke-width="0.25">12:00</text>
<text x="442" y="778" text-anchor="middle" font-family="'Liberation Sans','Noto Sans CJK SC',sans-serif" font-size="12" fill="#131722" stroke="#131722" stroke-width="0.25">4</text>
<text x="516" y="778" text-anchor="middle" font-family="'Liberation Sans','Noto Sans CJK SC',sans-serif" font-size="12" fill="#131722" stroke="#131722" stroke-width="0.25">12:00</text>
<text x="589.5" y="778" text-anchor="middle" font-family="'Liberation Sans','Noto Sans CJK SC',sans-serif" font-size="12" fill="#131722" stroke="#131722" stroke-width="0.25">7</text>
<text x="663.5" y="778" text-anchor="middle" font-family="'Liberation Sans','Noto Sans CJK SC',sans-serif" font-size="12" fill="#131722" stroke="#131722" stroke-width="0.25">12:00</text>
<text x="737" y="778" text-anchor="middle" font-family="'Liberation Sans','Noto Sans CJK SC',sans-serif" font-size="12" fill="#131722" stroke="#131722" stroke-width="0.25">8</text>
<text x="811" y="778" text-anchor="middle" font-family="'Liberation Sans','Noto Sans CJK SC',sans-serif" font-size="12" fill="#131722" stroke="#131722" stroke-width="0.25">12:00</text>
<text x="885" y="778" text-anchor="middle" font-family="'Liberation Sans','Noto Sans CJK SC',sans-serif" font-size="12" fill="#131722" stroke="#131722" stroke-width="0.25">9</text>
<text x="959" y="778" text-anchor="middle" font-family="'Liberation Sans','Noto Sans CJK SC',sans-serif" font-size="12" fill="#131722" stroke="#131722" stroke-width="0.25">12:00</text>
<text x="1032.5" y="778" text-anchor="middle" font-family="'Liberation Sans','Noto Sans CJK SC',sans-serif" font-size="12" fill="#131722" stroke="#131722" stroke-width="0.25">10</text>
<text x="1106.5" y="778" text-anchor="middle" font-family="'Liberation Sans','Noto Sans CJK SC',sans-serif" font-size="12" fill="#131722" stroke="#131722" stroke-width="0.25">12:00</text>
<text x="1180" y="778" text-anchor="middle" font-family="'Liberation Sans','Noto Sans CJK SC',sans-serif" font-size="12" fill="#131722" stroke="#131722" stroke-width="0.25">11</text>
<text x="1254" y="778" text-anchor="middle" font-family="'Liberation Sans','Noto Sans CJK SC',sans-serif" font-size="12" fill="#131722" stroke="#131722" stroke-width="0.25">12:00</text>
<text x="1328" y="778" text-anchor="middle" font-family="'Liberation Sans','Noto Sans CJK SC',sans-serif" font-size="12" fill="#131722" stroke="#131722" stroke-width="0.25">14</text>
<text x="1402" y="778" text-anchor="middle" font-family="'Liberation Sans','Noto Sans CJK SC',sans-serif" font-size="12" fill="#131722" stroke="#131722" stroke-width="0.25">12:00</text>
<text x="0.3" y="778" font-family="'Liberation Sans','Noto Sans CJK SC',sans-serif" font-size="12.5" font-weight="bold" fill="#131722">月</text>
<g fill="none" stroke="#131722" stroke-width="1.1"><path d="M1455.5 774.5l3.6-6.3h7.3l3.6 6.3-3.6 6.3h-7.3z"/><circle cx="1462.7" cy="774.5" r="2"/></g>
</svg>
<svg class="abs" style="left:6px;top:4px" width="22" height="22" viewBox="0 0 22 22">
  <defs>
    <clipPath id="cus"><circle cx="14.1" cy="8.8" r="6.1"/></clipPath>
    <clipPath id="cuk"><circle cx="8" cy="14.9" r="6.1"/></clipPath>
  </defs>
  <g clip-path="url(#cus)">
    <rect x="7" y="2" width="14" height="14" fill="#fff"/>
    <rect x="15.1" y="2" width="6" height="4" fill="#f44336"/>
    <rect x="15.1" y="8" width="6" height="1.8" fill="#f44336"/>
    <rect x="15.1" y="12" width="6" height="3" fill="#f44336"/>
    <rect x="7" y="2" width="8.1" height="7.8" fill="#1e88e5"/>
    <g fill="#cfe3fa"><circle cx="11.5" cy="4.6" r="0.55"/><circle cx="13.6" cy="4.6" r="0.55"/><circle cx="9.6" cy="6.6" r="0.55"/><circle cx="11.5" cy="6.6" r="0.55"/><circle cx="13.6" cy="6.6" r="0.55"/><circle cx="13.6" cy="8.6" r="0.55"/></g>
  </g>
  <circle cx="8" cy="14.9" r="7.1" fill="#fff"/>
  <g clip-path="url(#cuk)">
    <rect x="1" y="8" width="14" height="14" fill="#0d47a1"/>
    <path d="M2 8.9l12 12M14 8.9l-12 12" stroke="#fff" stroke-width="2"/>
    <path d="M2 8.9l12 12M14 8.9l-12 12" stroke="#f77c80" stroke-width="0.8"/>
    <path d="M8 8v14M1 14.9h14" stroke="#fff" stroke-width="3"/>
    <path d="M8 8v14M1 14.9h14" stroke="#f77c80" stroke-width="2"/>
  </g>
</svg>
<div class="abs pill"><i style="left:0;width:20px;background:#d9f0eb"></i><i style="left:20px;width:20px;background:#fcdde7"></i></div>
<svg class="abs" style="left:213px;top:7px" width="40" height="18" viewBox="0 0 40 18">
  <circle cx="11" cy="9" r="4" fill="#089981"/>
  <text x="29.5" y="14" text-anchor="middle" font-family="'Liberation Sans','Noto Sans CJK SC',sans-serif" font-size="16.5" font-weight="bold" fill="#e0245e">≈</text>
</svg>
<div class="abs btn"></div>
<svg class="abs" style="left:7px;top:31px" width="32" height="21" viewBox="0 0 32 21">
  <path d="M6.2 9l3.8 3.6 3.8-3.6" fill="none" stroke="#131722" stroke-width="1.3"/>
  <text x="19.5" y="14.6" font-family="'Liberation Sans','Noto Sans CJK SC',sans-serif" font-size="12.5" fill="#131722">2</text>
</svg>
</body>
</html>
